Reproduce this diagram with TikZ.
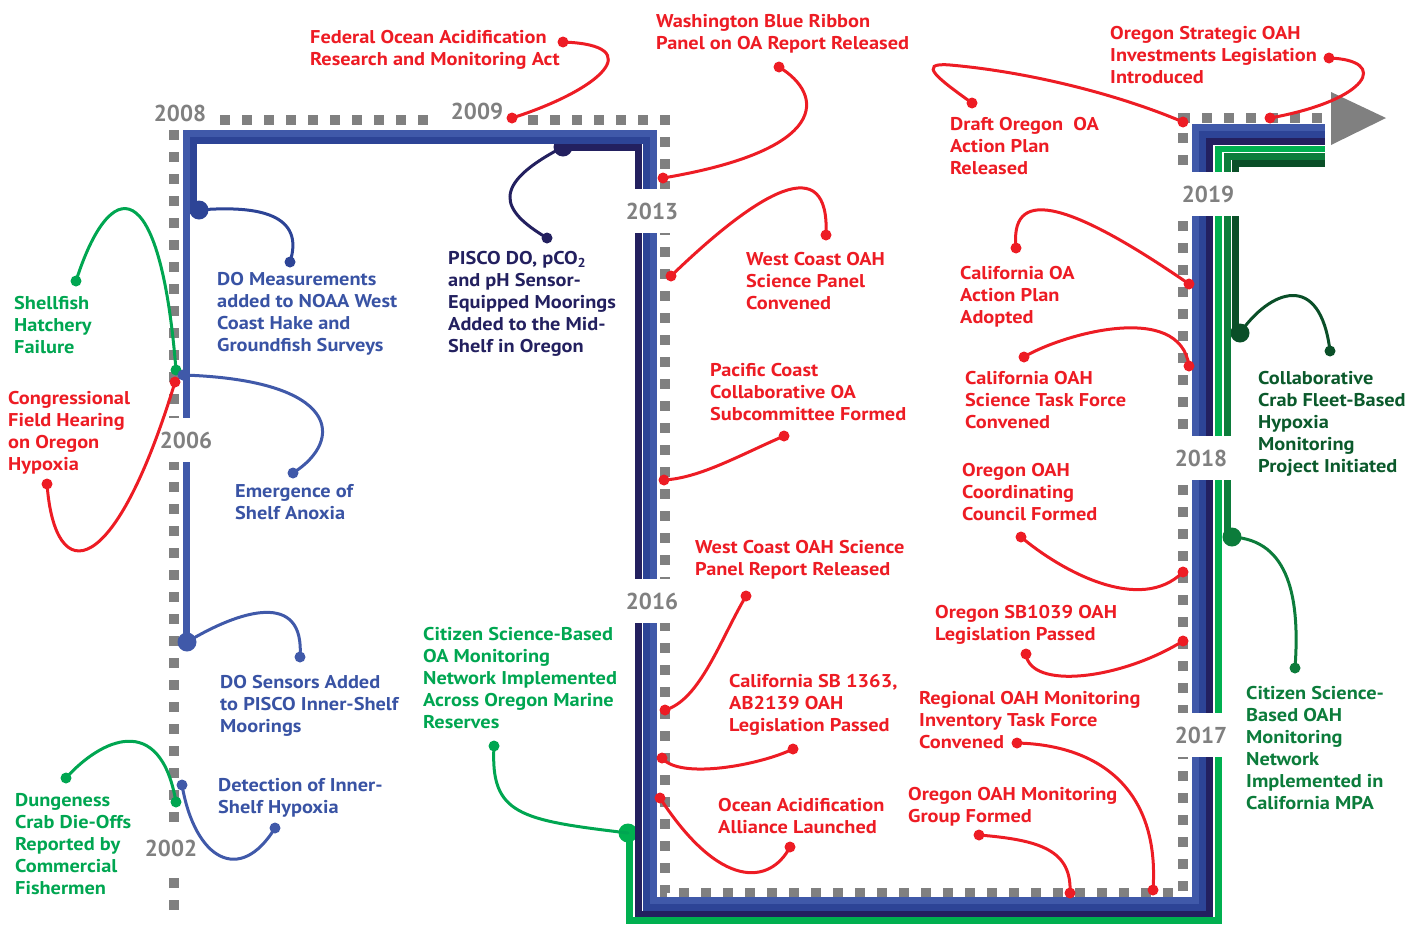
\documentclass[tikz,border=0pt]{standalone}
\usepackage{fontspec}
\setmainfont{PT Sans}
\newfontfamily\lblfont{PT Sans}[FakeStretch=1.1]
\definecolor{ored}{HTML}{ED1C24}
\definecolor{ogreen}{HTML}{00A651}
\definecolor{lgreen}{HTML}{00B050}
\definecolor{mgreen}{HTML}{0C7C3B}
\definecolor{dgreen}{HTML}{0B5A2C}
\definecolor{dgline}{HTML}{0A4F28}
\definecolor{bluetxt}{HTML}{3953A4}
\definecolor{lblue}{HTML}{4059A9}
\definecolor{mblue}{HTML}{2D4496}
\definecolor{navy}{HTML}{23205F}
\definecolor{ygrey}{HTML}{808080}
\tikzset{
  tl/.style={line width=7, line cap=butt, line join=miter},
  conn/.style={line width=3, line cap=round},
  sdot/.style={circle, fill=#1, inner sep=0, minimum size=11},
  bdot/.style={circle, fill=#1, inner sep=0, minimum size=19},
  lbl/.style={anchor=north west, inner sep=0, align=left, font=\lblfont\bfseries\fontsize{18.5}{22}\selectfont, text=#1},
  yr/.style={fill=white, text=ygrey, font=\bfseries\fontsize{23}{23}\selectfont, inner sep=0, minimum width=#1, minimum height=44},
}
\begin{document}
\begin{tikzpicture}[x=1pt,y=-1pt]
\useasboundingbox (0,0) rectangle (1416,924);
% grey dotted time axis
\draw[ygrey, line width=10, dash pattern=on 10 off 12] (174,910) -- (174,120) -- (665,120) -- (665,893) -- (1183,893) -- (1183,118) -- (1330,118);
\fill[ygrey] (1331,92) -- (1386,118) -- (1331,145) -- cycle;
% start dots of the timelines
\node[bdot=lblue] (dA) at (187,642) {};
\node[bdot=mblue] (dB) at (199,210) {};
\node[bdot=navy] (dC) at (563,147) {};
\node[bdot=lgreen] (dD) at (628,833) {};
\node[bdot=mgreen] (dE) at (1232,537) {};
\node[bdot=dgline] (dF) at (1240,333) {};
% timelines
\draw[tl, lblue] (dA.center) -- (186.5,642) -- (186.5,133) -- (653,133) -- (653,900.5) -- (1195.5,900.5) -- (1195.5,127) -- (1325,127);
\draw[tl, mblue] (dB.center) -- (193.5,210) -- (193.5,140) -- (646,140) -- (646,907.5) -- (1202.5,907.5) -- (1202.5,134) -- (1325,134);
\draw[tl, navy] (dC.center) -- (638.5,147) -- (638.5,914.5) -- (1209.5,914.5) -- (1209.5,141) -- (1325,141);
\draw[tl, lgreen, line width=6.5] (dD.center) -- (629.5,833) -- (629.5,920.5) -- (1218.5,920.5) -- (1218.5,149) -- (1325,149);
\draw[tl, mgreen] (dE.center) -- (1227,537) -- (1227,156) -- (1325,156);
\draw[tl, dgline] (dF.center) -- (1235,333) -- (1235,163) -- (1325,163);
% year labels
\node[yr=70, minimum height=30] (y2008) at (180,113) {2008};
\node[yr=84, minimum height=30] (y2009) at (477,111) {2009};
\node[yr=56] (y2013) at (652,211) {2013};
\node[yr=56] (y2016) at (652,601) {2016};
\node[yr=56] (y2006) at (186,440) {2006};
\node[yr=56] (y2002) at (171,848) {2002};
\node[yr=66] (y2019) at (1208,194) {2019};
\node[yr=68] (y2018) at (1201,458) {2018};
\node[yr=68] (y2017) at (1201,735) {2017};
% connector end dots
\node[sdot=ored] (a1) at (563,42) {};   \node[sdot=ored] (b1) at (512,118) {};
\node[sdot=ored] (a2) at (779,67) {};   \node[sdot=ored] (b2) at (663,178) {};
\node[sdot=ored] (a3) at (1329,58) {};  \node[sdot=ored] (b3) at (1270,118) {};
\node[sdot=ored] (a4) at (972,103) {};  \node[sdot=ored] (b4) at (1183,122) {};
\node[sdot=ored] (a5) at (826,235) {};  \node[sdot=ored] (b5) at (671,276) {};
\node[sdot=ored] (a6) at (1016,248) {}; \node[sdot=ored] (b6) at (1189,284) {};
\node[sdot=ored] (a7) at (784,436) {};  \node[sdot=ored] (b7) at (664,480) {};
\node[sdot=ored] (a8) at (1024,357) {}; \node[sdot=ored] (b8) at (1189,366) {};
\node[sdot=ored] (a9) at (1021,537) {}; \node[sdot=ored] (b9) at (1183,572) {};
\node[sdot=ored] (a10) at (746,596) {}; \node[sdot=ored] (b10) at (665,710) {};
\node[sdot=ored] (a11) at (1026,654) {};\node[sdot=ored] (b11) at (1183,641) {};
\node[sdot=ored] (a12) at (793,749) {}; \node[sdot=ored] (b12) at (662,758) {};
\node[sdot=ored] (a13) at (1017,743) {};\node[sdot=ored] (b13) at (1153,890) {};
\node[sdot=ored] (a14) at (790,847) {}; \node[sdot=ored] (b14) at (660,798) {};
\node[sdot=ored] (a15) at (979,835) {}; \node[sdot=ored] (b15) at (1070,893) {};
\node[sdot=ored] (a16) at (47,484) {};  \node[sdot=ored] (b16) at (175,382) {};
\node[sdot=ogreen] (a17) at (76,281) {}; \node[sdot=ogreen] (b17) at (176,370) {};
\node[sdot=ogreen] (a18) at (66,778) {}; \node[sdot=ogreen] (b18) at (176,802) {};
\node[sdot=ogreen] (a19) at (494,746) {};
\node[sdot=mgreen] (a20) at (1295,668) {};
\node[sdot=dgline] (a21) at (1330,351) {};
\node[sdot=mblue] (a22) at (290,262) {};
\node[sdot=lblue] (a23) at (293,473) {}; \node[sdot=lblue] (b23) at (183,375) {};
\node[sdot=lblue] (a24) at (300,657) {};
\node[sdot=lblue] (a25) at (275,828) {}; \node[sdot=lblue] (b25) at (182,785) {};
\node[sdot=navy] (a26) at (547,238) {};
% connectors
\draw[conn, ored] (a1.center) .. controls (650,45) and (600,90) .. (b1.center);
\draw[conn, ored] (a2.center) .. controls (825,95) and (830,150) .. (b2.center);
\draw[conn, ored] (a3.center) .. controls (1390,60) and (1370,100) .. (b3.center);
\draw[conn, ored] (a4.center) .. controls (940,80) and (915,62) .. (950,65) .. controls (1030,72) and (1120,95) .. (b4.center);
\draw[conn, ored] (a5.center) .. controls (830,150) and (760,190) .. (b5.center);
\draw[conn, ored] (a6.center) .. controls (1010,190) and (1060,195) .. (b6.center);
\draw[conn, ored] (a7.center) .. controls (740,455) and (700,478) .. (b7.center);
\draw[conn, ored] (a8.center) .. controls (1060,335) and (1180,300) .. (b8.center);
\draw[conn, ored] (a9.center) .. controls (1060,570) and (1140,615) .. (b9.center);
\draw[conn, ored] (a10.center) .. controls (720,640) and (700,700) .. (b10.center);
\draw[conn, ored] (a11.center) .. controls (1030,690) and (1120,680) .. (b11.center);
\draw[conn, ored] (a12.center) .. controls (760,765) and (680,780) .. (b12.center);
\draw[conn, ored] (a13.center) .. controls (1100,745) and (1160,790) .. (b13.center);
\draw[conn, ored] (a14.center) .. controls (770,885) and (720,890) .. (b14.center);
\draw[conn, ored] (a15.center) .. controls (1040,840) and (1072,850) .. (b15.center);
\draw[conn, ored] (a16.center) .. controls (55,590) and (115,580) .. (b16.center);
\draw[conn, ogreen] (a17.center) .. controls (110,175) and (160,170) .. (b17.center);
\draw[conn, ogreen] (a18.center) .. controls (100,740) and (160,710) .. (b18.center);
\draw[conn, ogreen] (a19.center) .. controls (490,815) and (520,820) .. (dD.center);
\draw[conn, mgreen] (dE.center) .. controls (1290,540) and (1300,600) .. (a20.center);
\draw[conn, dgline] (dF.center) .. controls (1270,290) and (1320,270) .. (a21.center);
\draw[conn, mblue] (dB.center) .. controls (260,205) and (305,215) .. (a22.center);
\draw[conn, lblue] (b23.center) .. controls (340,380) and (345,440) .. (a23.center);
\draw[conn, lblue] (dA.center) .. controls (240,610) and (305,590) .. (a24.center);
\draw[conn, lblue] (b25.center) .. controls (195,860) and (240,885) .. (a25.center);
\draw[conn, navy] (dC.center) .. controls (490,185) and (500,210) .. (a26.center);
% texts
\node[lbl=ored] (t1) at (310,30) {Federal Ocean Acidification\\Research and Monitoring Act};
\node[lbl=ored] (t2) at (656,14) {Washington Blue Ribbon\\Panel on OA Report Released};
\node[lbl=ored] (t3) at (1110,26) {Oregon Strategic OAH\\Investments Legislation\\Introduced};
\node[lbl=ored] (t4) at (950,117) {Draft Oregon~~OA\\Action Plan\\Released};
\node[lbl=ored] (t5) at (746,252) {West Coast OAH\\Science Panel\\Convened};
\node[lbl=ored] (t6) at (960,266) {California OA\\Action Plan\\Adopted};
\node[lbl=ored] (t7) at (710,363) {Pacific Coast\\Collaborative OA\\Subcommittee Formed};
\node[lbl=ored] (t8) at (965,371) {California OAH\\Science Task Force\\Convened};
\node[lbl=ored] (t9) at (962,463) {Oregon OAH\\Coordinating\\Council Formed};
\node[lbl=ored] (t10) at (695,540) {West Coast OAH Science\\Panel Report Released};
\node[lbl=ored] (t11) at (935,605) {Oregon SB1039 OAH\\Legislation Passed};
\node[lbl=ored] (t12) at (729,674) {California SB 1363,\\AB2139 OAH\\Legislation Passed};
\node[lbl=ored] (t13) at (919,691) {Regional OAH Monitoring\\Inventory Task Force\\Convened};
\node[lbl=ored] (t14) at (718,798) {Ocean Acidification\\Alliance Launched};
\node[lbl=ored] (t15) at (908,787) {Oregon OAH Monitoring\\Group Formed};
\node[lbl=ored] (t16) at (8,391) {Congressional\\Field Hearing\\on Oregon\\Hypoxia};
\node[lbl=ogreen] (t17) at (14,296) {Shellfish\\Hatchery\\Failure};
\node[lbl=ogreen] (t18) at (15,793) {Dungeness\\Crab Die-Offs\\Reported by\\Commercial\\Fishermen};
\node[lbl=ogreen] (t19) at (423,627) {Citizen Science-Based\\OA Monitoring\\Network Implemented\\Across Oregon Marine\\Reserves};
\node[lbl=mgreen] (t20) at (1246,686) {Citizen Science-\\Based OAH\\Monitoring\\Network\\Implemented in\\California MPA};
\node[lbl=dgreen] (t21) at (1258,371) {Collaborative\\Crab Fleet-Based\\Hypoxia\\Monitoring\\Project Initiated};
\node[lbl=bluetxt] (t22) at (217,272) {DO Measurements\\added to NOAA West\\Coast Hake and\\Groundfish Surveys};
\node[lbl=bluetxt] (t23) at (235,484) {Emergence of\\Shelf Anoxia};
\node[lbl=bluetxt] (t24) at (220,675) {DO Sensors Added\\to PISCO Inner-Shelf\\Moorings};
\node[lbl=bluetxt] (t25) at (218,778) {Detection of Inner-\\Shelf Hypoxia};
\node[lbl=navy] (t26) at (448,251) {PISCO DO, pCO\textsubscript{2}\\and pH Sensor-\\Equipped Moorings\\Added to the Mid-\\Shelf in Oregon};
\end{tikzpicture}
\end{document}
